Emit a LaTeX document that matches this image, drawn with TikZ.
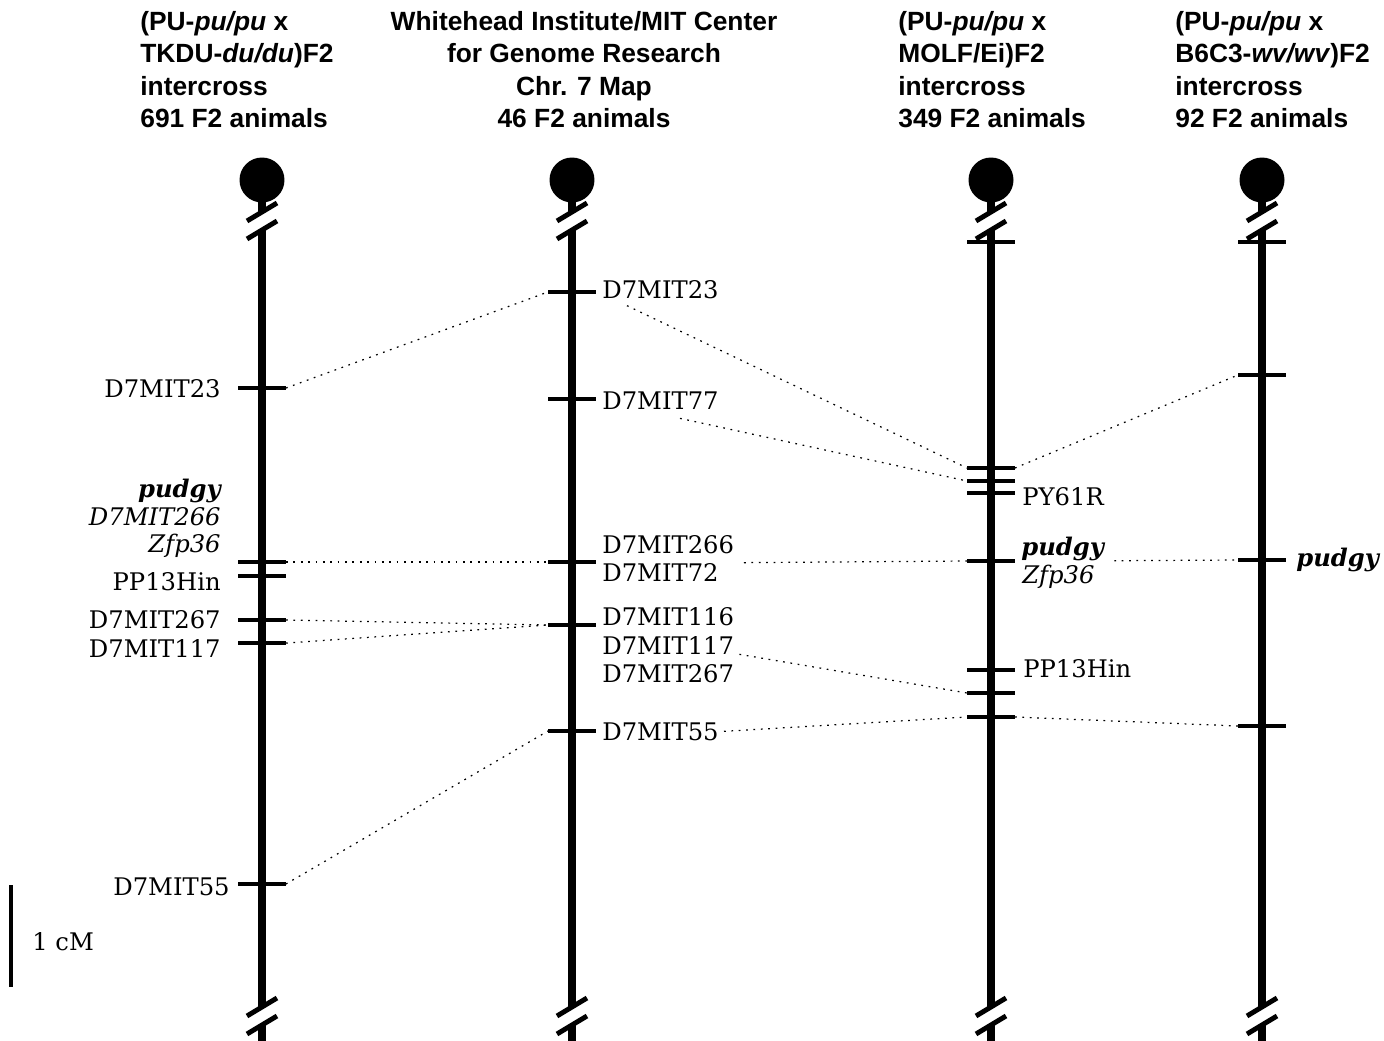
\documentclass[tikz,border=0pt]{standalone}
\usepackage{fontspec}
\setsansfont{Liberation Sans}
\newfontfamily\schola{DejaVu Serif}
\usepackage{tikz}
\usetikzlibrary{calc}

% tick across a chromosome: name, x, y
\newcommand{\mtick}[3]{\draw [tk] (#2-24,#3) coordinate (#1l) -- (#2+24,#3) coordinate (#1r);}

% break mark: x, y
\newcommand{\brkmark}[2]{%
 \fill [white] (#1-15,#2) -- (#1+15,#2-18) -- (#1+15,#2) -- (#1-15,#2+18) -- cycle;
 \draw [brk] (#1-15,#2) -- (#1+15,#2-18);
 \draw [brk] (#1-15,#2+18) -- (#1+15,#2);}

% chromosome: name, x
\newcommand{\chromo}[2]{%
 \node [cen] (#1cen) at (#2,180) {};
 \coordinate (#1bot) at (#2,1041);
 \draw [chrom] (#1cen.center) -- (#1bot);
 \brkmark{#2}{221}
 \brkmark{#2}{1016}}

\begin{document}
\begin{tikzpicture}[x=0.02cm,y=-0.02cm,
 chrom/.style={line width=5.1pt},
 cen/.style={circle,fill=black,minimum size=0.9cm,inner sep=0pt},
 tk/.style={line width=2pt},
 brk/.style={line width=2.8pt},
 link/.style={line width=0.7pt,dash pattern=on 1pt off 3.2pt},
 mk/.style={font=\schola\fontsize{13.8}{17}\selectfont,inner sep=0pt},
 mkit/.style={font=\schola\fontsize{13.8}{17}\selectfont\itshape,inner sep=0pt},
 mkbi/.style={font=\schola\fontsize{13.8}{17}\selectfont\bfseries\itshape,inner sep=0pt},
 hd/.style={font=\sffamily\bfseries\fontsize{15}{18.5}\selectfont,inner sep=0pt}]

\useasboundingbox (0,0) rectangle (1384,1041);

% headings
\node [hd,align=left,anchor=north west] (h1) at (140,11) {(PU-\textit{pu/pu} x\\TKDU-\textit{du/du})F2\\intercross\\691 F2 animals};
\node [hd,align=center,anchor=north] (h2) at (584,11) {Whitehead Institute/MIT Center\\for Genome Research\\Chr. 7 Map\\46 F2 animals};
\node [hd,align=left,anchor=north west] (h3) at (898,11) {(PU-\textit{pu/pu} x\\MOLF/Ei)F2\\intercross\\349 F2 animals};
\node [hd,align=left,anchor=north west] (h4) at (1175,11) {(PU-\textit{pu/pu} x\\B6C3-\textit{wv/wv})F2\\intercross\\92 F2 animals};

\chromo{a}{262}
\chromo{b}{572}
\chromo{c}{991}
\chromo{d}{1262}

% column 1
\mtick{a23}{262}{388}
\mtick{a562}{262}{562}
\mtick{a576}{262}{576}
\mtick{a620}{262}{620}
\mtick{a643}{262}{643}
\mtick{a884}{262}{884}
\node [mk,anchor=base east] (a23t) at (221,397) {D7MIT23};
\node [mkbi,anchor=base east] (apudt) at (221,497) {pudgy};
\node [mkit,anchor=base east] (a266t) at (221,525) {D7MIT266};
\node [mkit,anchor=base east] (azfpt) at (221,552) {Zfp36};
\node [mk,anchor=base east] (appt) at (221,590) {PP13Hin};
\node [mk,anchor=base east] (a267t) at (221,628) {D7MIT267};
\node [mk,anchor=base east] (a117t) at (221,657) {D7MIT117};
\node [mk,anchor=base east] (a55t) at (230,895) {D7MIT55};

% column 2
\mtick{b292}{572}{292}
\mtick{b399}{572}{399}
\mtick{b562}{572}{562}
\mtick{b625}{572}{625}
\mtick{b731}{572}{731}
\node [mk,anchor=base west] (b23t) at (602,298) {D7MIT23};
\node [mk,anchor=base west] (b77t) at (602,409) {D7MIT77};
\node [mk,anchor=base west] (b266t) at (602,553) {D7MIT266};
\node [mk,anchor=base west] (b72t) at (602,581) {D7MIT72};
\node [mk,anchor=base west] (b116t) at (602,625) {D7MIT116};
\node [mk,anchor=base west] (b117t) at (602,654) {D7MIT117};
\node [mk,anchor=base west] (b267t) at (602,682) {D7MIT267};
\node [mk,anchor=base west] (b55t) at (602,740) {D7MIT55};

% column 3
\mtick{c242}{991}{242}
\mtick{c468}{991}{468}
\mtick{c481}{991}{481}
\mtick{c493}{991}{493}
\mtick{c561}{991}{561}
\mtick{c670}{991}{670}
\mtick{c693}{991}{693}
\mtick{c717}{991}{717}
\node [mk,anchor=base west] (cpyt) at (1022,505) {PY61R};
\node [mkbi,anchor=base west] (cpudt) at (1021,555) {pudgy};
\node [mkit,anchor=base west] (czfpt) at (1022,583) {Zfp36};
\node [mk,anchor=base west] (cppt) at (1023,677) {PP13Hin};

% column 4
\mtick{d242}{1262}{242}
\mtick{d375}{1262}{375}
\mtick{d560}{1262}{560}
\mtick{d726}{1262}{726}
\node [mkbi,anchor=base west] (dpudt) at (1296,566) {pudgy};

% scale bar
\draw [line width=2.3pt] (11,885) coordinate (sbtop) -- (11,987) coordinate (sbbot);
\node [mk,anchor=base west] (sbt) at (32,950) {1 cM};

% links
\draw [link] (a23r) -- (b292l);
\draw [link] (a562r) -- (b562l);
\draw [link] (a620r) -- (b625l);
\draw [link] (a643r) -- (b625l);
\draw [link] (a884r) -- (b731l);
\draw [link] ([xshift=0.5cm,yshift=-0.14cm]b23t.south west) -- (c468l);
\draw [link] ([xshift=1.56cm,yshift=-0.18cm]b77t.south west) -- (c481l);
\draw [link] ([xshift=0.5cm]b72t.north east) -- (c561l);
\draw [link] ([xshift=0.1cm]b117t.south east) -- (c693l);
\draw [link] ([xshift=0.1cm]b55t.east) -- (c717l);
\draw [link] (c468r) -- (d375l);
\draw [link] ([xshift=0.2cm]cpudt.south east) -- (d560l);
\draw [link] (c717r) -- (d726l);

\end{tikzpicture}
\end{document}
